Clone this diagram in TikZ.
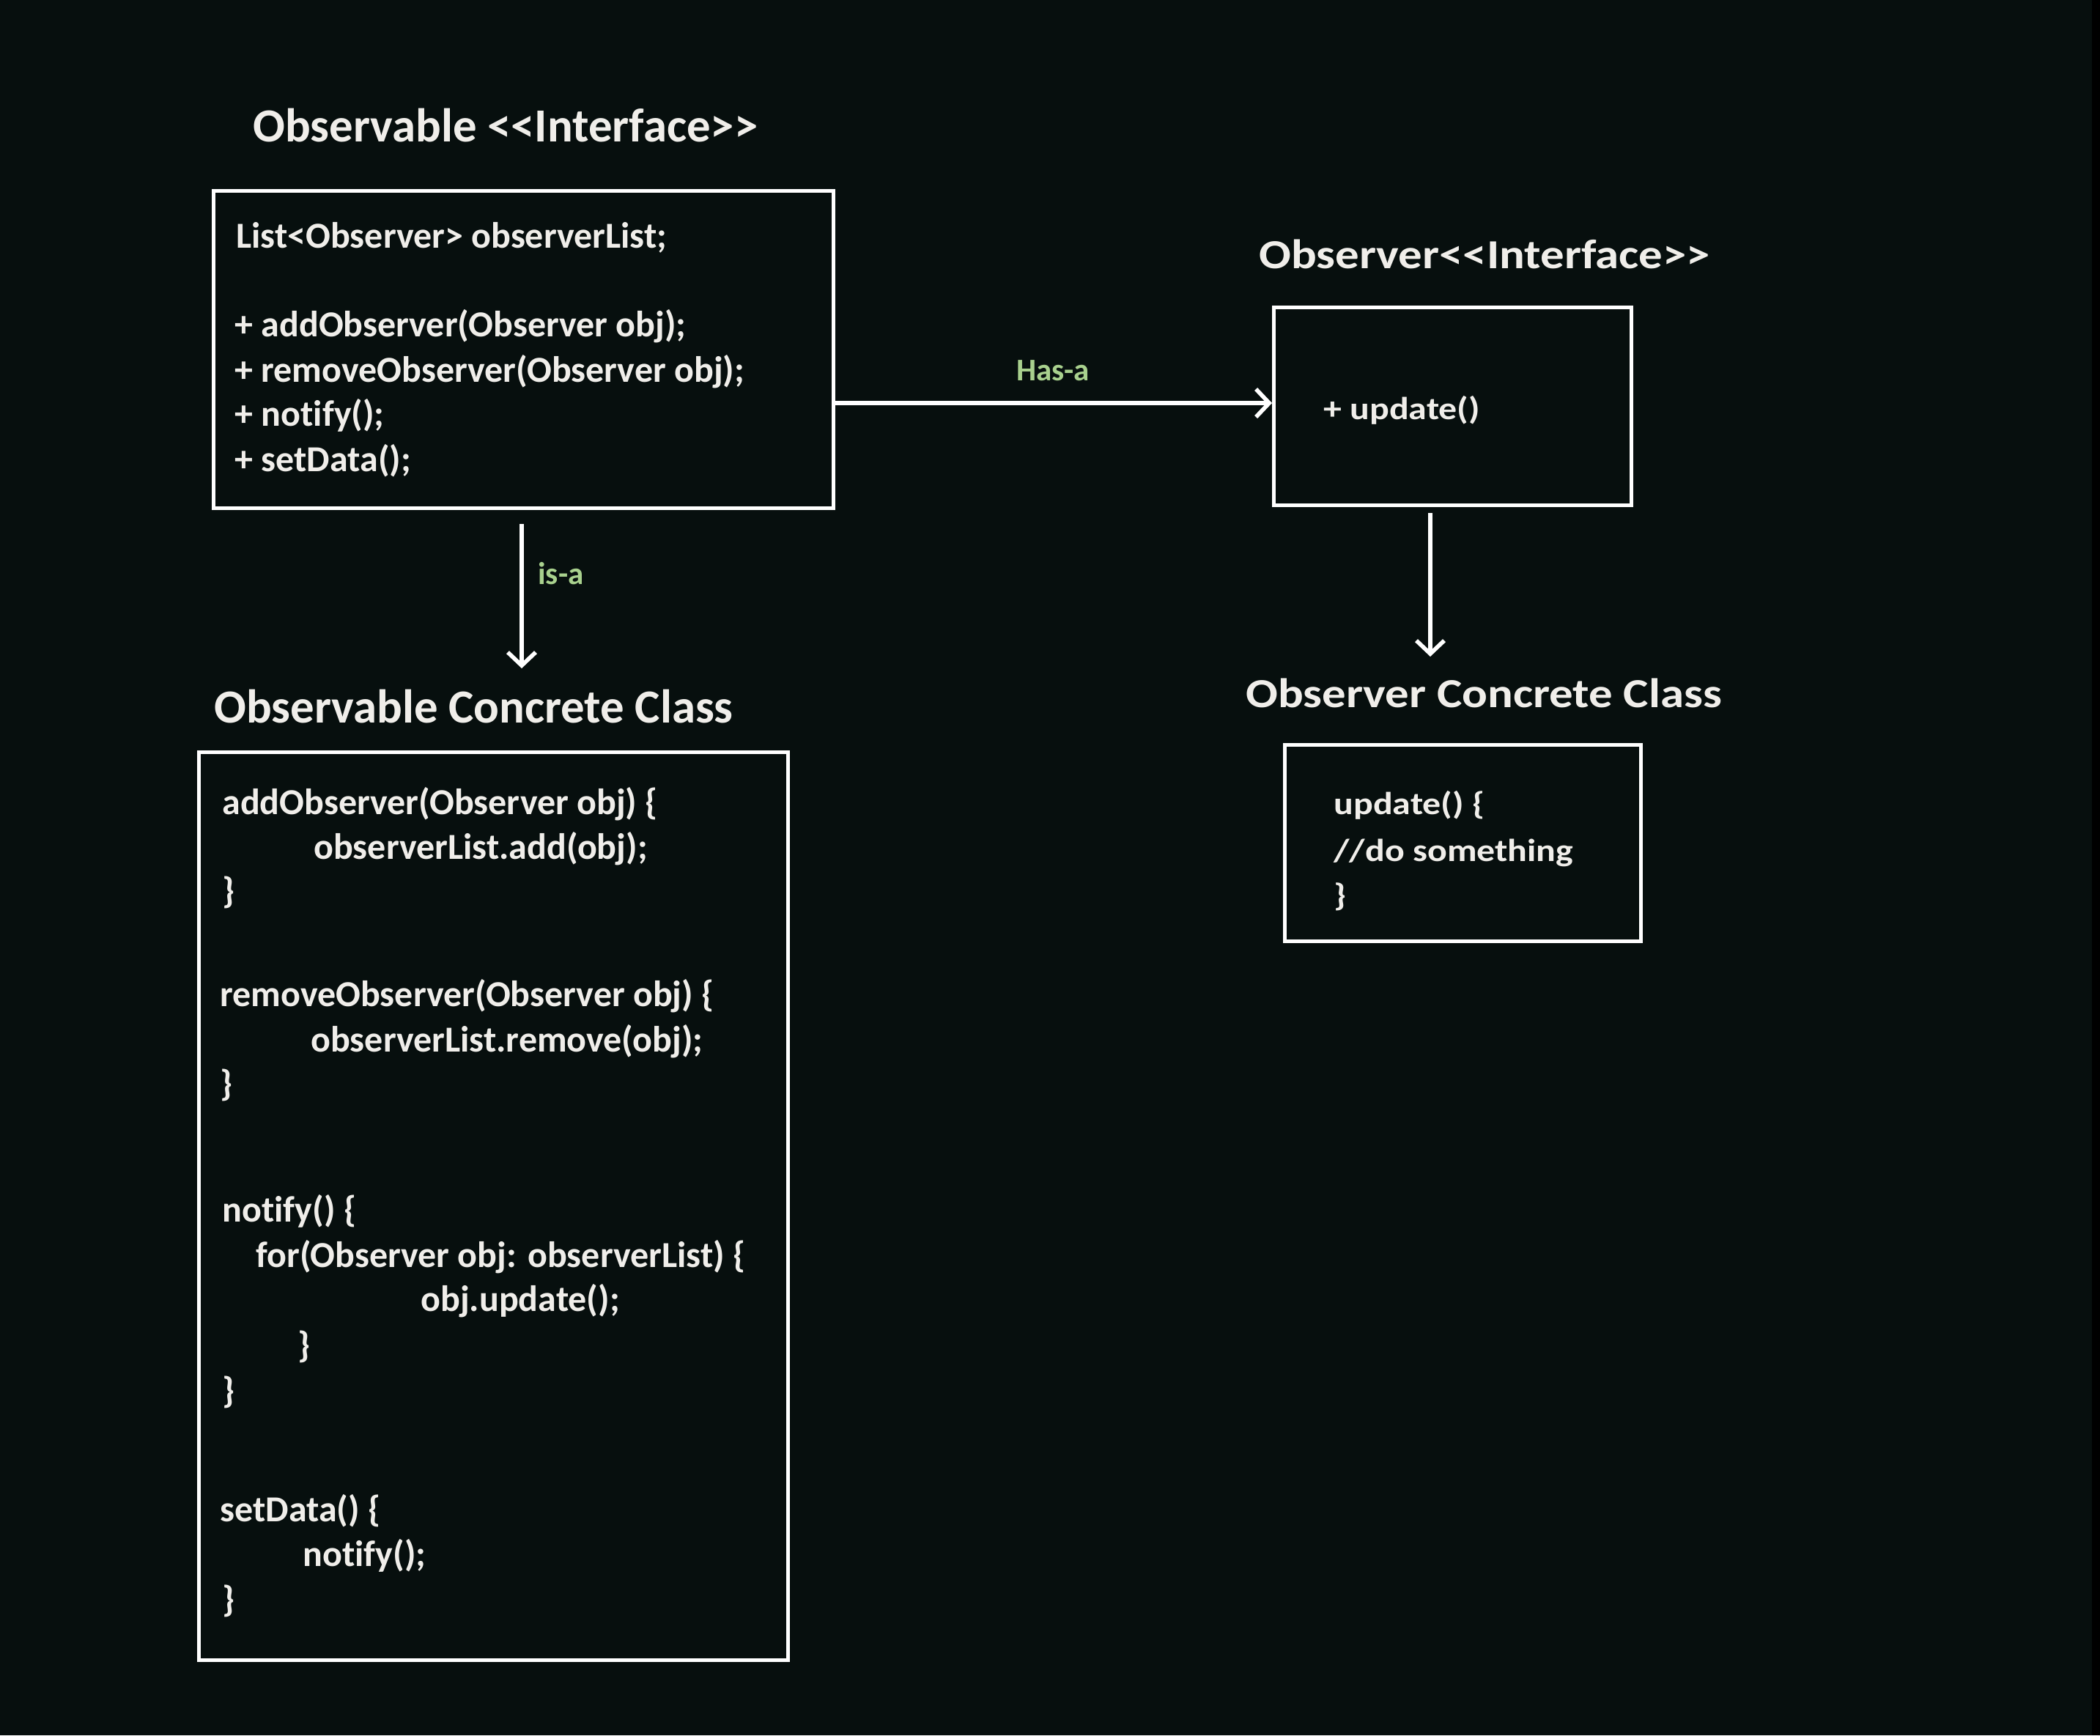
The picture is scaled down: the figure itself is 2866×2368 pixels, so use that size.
\documentclass[tikz,border=0pt]{standalone}
\usepackage{fontspec}
\setmainfont{Carlito}[Ligatures={NoCommon}]
\newfontfamily\widefont{Carlito}[FakeStretch=1.15,Ligatures={NoCommon}]
\usetikzlibrary{arrows.meta}
\definecolor{bgc}{HTML}{070F0E}
\definecolor{ink}{HTML}{F0EEEA}
\definecolor{relc}{HTML}{A9D18E}
\begin{document}
\begin{tikzpicture}[x=0.5pt,y=-0.5pt,
  box/.style={draw=white, line width=2.6pt, anchor=north west, inner sep=0pt},
  code/.style={text=ink, anchor=base west, inner sep=0pt, font=\bfseries\fontsize{25}{30}\selectfont},
  wcode/.style={text=ink, anchor=base west, inner sep=0pt, font=\widefont\bfseries\fontsize{21.7}{26}\selectfont},
  title/.style={text=ink, anchor=base west, inner sep=0pt, font=\bfseries\fontsize{32.4}{38}\selectfont},
  wtitle/.style={text=ink, anchor=base west, inner sep=0pt, font=\widefont\bfseries\fontsize{28.2}{34}\selectfont},
  rel/.style={text=relc, inner sep=0pt, font=\bfseries\fontsize{21.5}{26}\selectfont},
  arr/.style={draw=white, line width=2.8pt, -{Straight Barb[length=9pt,width=19pt,line width=2.8pt]}}]
% canvas
\fill[bgc] (0,0) rectangle (2866,2368);
\fill[black] (2855,0) rectangle (2866,2368);
\useasboundingbox (0,0) rectangle (2866,2368);

% Observable interface
\node[title] (t1) at (345,193) {Observable <{}<Interface>{}>};
\node[box, minimum width=423pt, minimum height=216.5pt] (box1) at (289,258) {};
\node[code] (a1) at (322,338) {List<Observer> observerList;};
\node[code] (a2) at (320,459) {+ addObserver(Observer obj);};
\node[code] (a3) at (320,521) {+ removeObserver(Observer obj);};
\node[code] (a4) at (320,581) {+ notify();};
\node[code] (a5) at (320,643) {+ setData();};

% Observer interface
\node[wtitle] (t2) at (1718,366) {Observer<{}<Interface>{}>};
\node[box, minimum width=244pt, minimum height=135pt] (box2) at (1736,417) {};
\node[wcode] (b1) at (1806,572) {+ update()};

% Observable concrete class
\node[title] (t3) at (292,986) {Observable Concrete Class};
\node[box, minimum width=402pt, minimum height=619.5pt] (box3) at (269,1024) {};
\node[code] (c1) at (303,1111) {addObserver(Observer obj) \{};
\node[code] (c2) at (428,1172) {observerList.add(obj);};
\node[code] (c3) at (303,1232) {\}};
\node[code] (c4) at (300,1373) {removeObserver(Observer obj) \{};
\node[code] (c5) at (424,1435) {observerList.remove(obj);};
\node[code] (c6) at (300,1495) {\}};
\node[code] (c7) at (303,1667) {notify() \{};
\node[code] (c8) at (349,1729) {for(Observer obj: observerList) \{};
\node[code] (c9) at (574,1789) {obj.update();};
\node[code] (c10) at (406,1852) {\}};
\node[code] (c11) at (303,1914) {\}};
\node[code] (c12) at (300,2076) {setData() \{};
\node[code] (c13) at (413,2137) {notify();};
\node[code] (c14) at (303,2199) {\}};

% Observer concrete class
\node[wtitle] (t4) at (1700,965) {Observer Concrete Class};
\node[box, minimum width=243pt, minimum height=134pt] (box4) at (1751,1014) {};
\node[wcode] (d1) at (1820,1111) {update() \{};
\node[wcode] (d2) at (1820,1175) {//do something};
\node[wcode] (d3) at (1820,1236) {\}};

% relations
\coordinate (hasrow) at (0,550);
\draw[arr] (box1.east |- hasrow) -- (box2.west |- hasrow);
\node[rel] (hasa) at (1437,506) {Has-a};

\coordinate (isatop) at (712,715);
\coordinate (isatip) at (712,912);
\draw[arr] (isatop) -- (isatip);
\node[rel, anchor=west] (isa) at (734,783) {is-a};

\coordinate (obstop) at (1952,700);
\coordinate (obstip) at (1952,896);
\draw[arr] (obstop) -- (obstip);
\end{tikzpicture}
\end{document}
